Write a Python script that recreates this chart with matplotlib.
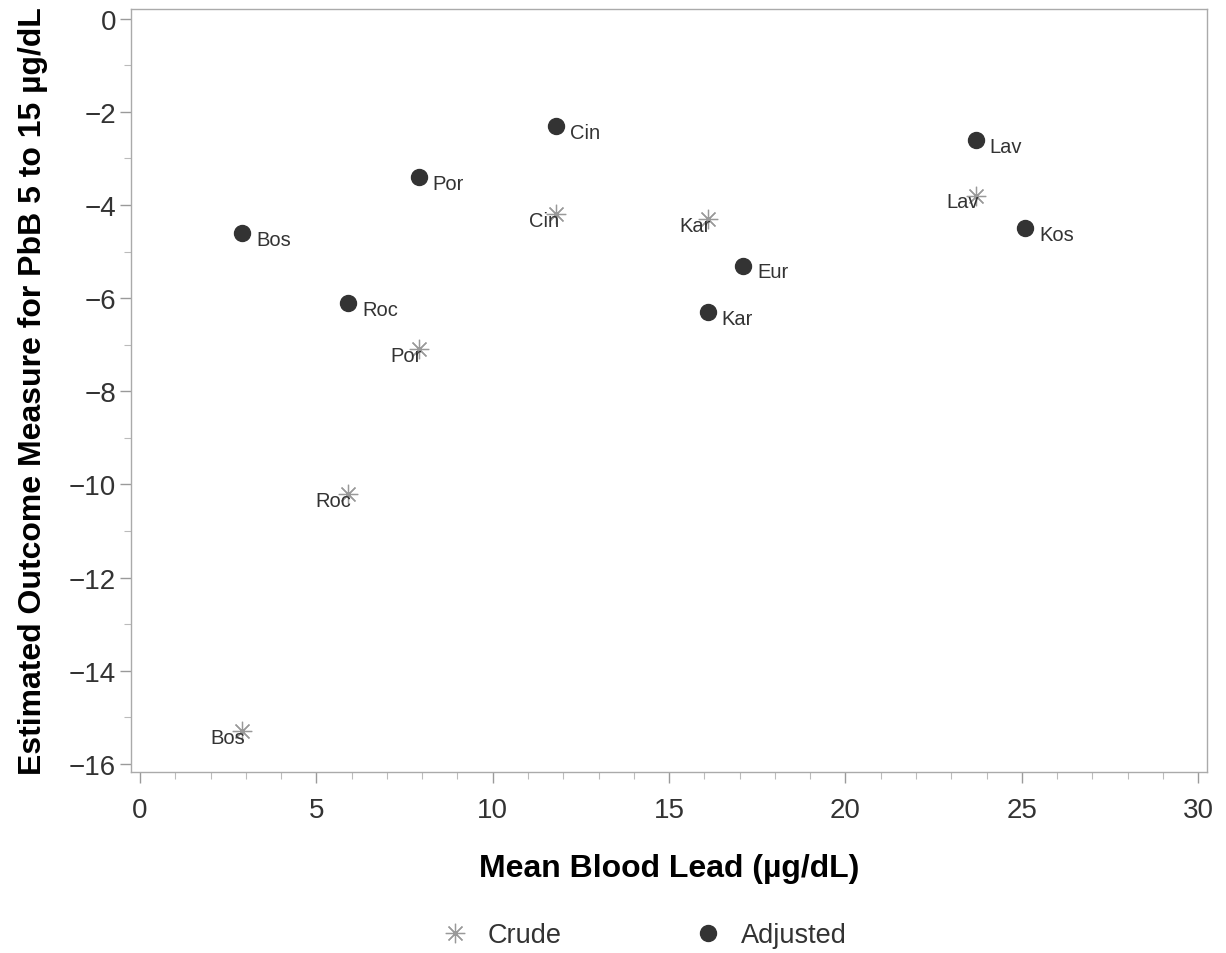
import numpy as np
import matplotlib
matplotlib.use("Agg")
import matplotlib.pyplot as plt
from matplotlib.ticker import MultipleLocator

plt.rcParams['font.family'] = ['Liberation Sans', 'DejaVu Sans']

sites = ['Bos', 'Roc', 'Por', 'Cin', 'Kar', 'Eur', 'Lav', 'Kos']
mean_pb = [2.9, 5.9, 7.9, 11.8, 16.1, 17.1, 23.7, 25.1]
adjusted = [-4.6, -6.1, -3.4, -2.3, -6.3, -5.3, -2.6, -4.5]

crude_sites = ['Bos', 'Roc', 'Por', 'Cin', 'Kar', 'Lav']
crude_pb = [2.9, 5.9, 7.9, 11.8, 16.1, 23.7]
crude = [-15.3, -10.2, -7.1, -4.2, -4.3, -3.8]

txt = '#333333'
grey = '#9a9a9a'

fig = plt.figure(figsize=(12.26, 9.54), dpi=100)
ax = fig.add_axes([0.107, 0.19, 0.8775, 0.7995])

ax.plot(crude_pb, crude, linestyle='none', marker=(8, 2, 0), markersize=14,
        markeredgewidth=0.9, color='#999999', label='Crude')
ax.plot(mean_pb, adjusted, linestyle='none', marker='o', markersize=11.5,
        color='#333333', label='Adjusted')

for s, x, y in zip(sites, mean_pb, adjusted):
    ax.annotate(s, (x, y), xytext=(10, -4.5), textcoords='offset points',
                ha='left', va='center', fontsize=14.5, color=txt)
for s, x, y in zip(crude_sites, crude_pb, crude):
    ax.annotate(s, (x, y), xytext=(2, -4.5), textcoords='offset points',
                ha='right', va='center', fontsize=14.5, color=txt)

ax.set_xlim(-0.25, 30.25)
ax.set_ylim(-16.17, 0.21)
ax.xaxis.set_major_locator(MultipleLocator(5))
ax.xaxis.set_minor_locator(MultipleLocator(1))
ax.yaxis.set_major_locator(MultipleLocator(2))
ax.yaxis.set_minor_locator(MultipleLocator(1))
ax.yaxis.set_major_formatter(plt.FuncFormatter(lambda v, p: f'{v:.0f}'.replace('-', '\u2212')))

for sp in ax.spines.values():
    sp.set_color('#aaaaaa')
    sp.set_linewidth(1.0)
ax.tick_params(which='major', length=8, width=1, color=grey, labelsize=20,
               labelcolor=txt, pad=3)
ax.tick_params(axis='x', which='major', pad=10)
ax.tick_params(which='minor', length=5, width=0.8, color='#bbbbbb')

ax.set_xlabel('Mean Blood Lead (\u00b5g/dL)', fontsize=23, fontweight='bold',
              labelpad=22, color='black')
ax.set_ylabel('Estimated Outcome Measure for PbB 5 to 15 \u00b5g/dL', fontsize=23,
              fontweight='bold', labelpad=15, color='black')

fig.legend(loc='lower center', bbox_to_anchor=(0.52, -0.012), ncol=2, frameon=False,
           fontsize=19.5, handletextpad=0.2, columnspacing=4.4, labelcolor=txt,
           borderaxespad=0.2)

fig.savefig('out.png', dpi=100)
